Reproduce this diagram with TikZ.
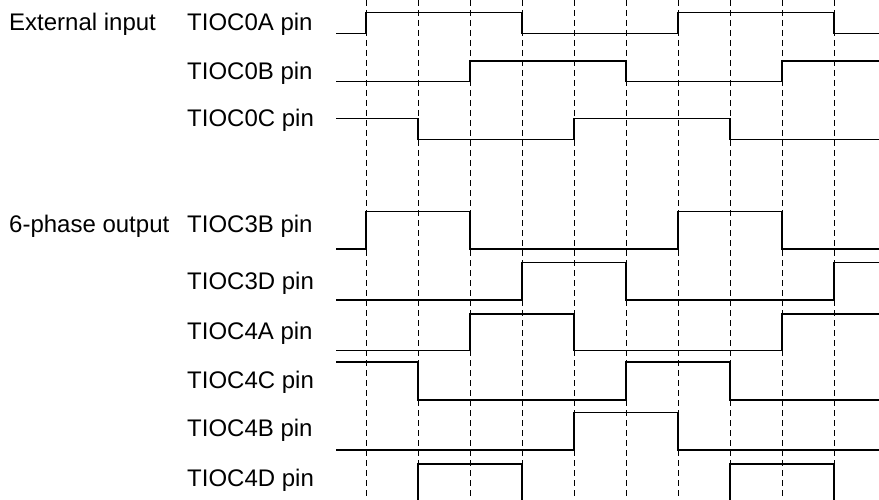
\documentclass[tikz,border=0pt]{standalone}
\usepackage{fontspec}
\setmainfont{Liberation Sans}
\begin{document}
\begin{tikzpicture}[x=1bp,y=-1bp,
  sig/.style={line width=1.1bp,black,line join=miter},
  grid/.style={line width=0.9bp,black,dash pattern=on 6bp off 4bp},
  lbl/.style={anchor=base west,inner sep=0pt,font=\fontsize{24bp}{28bp}\selectfont}]
\clip (0,0) rectangle (879,500);
% dashed timing lines
\foreach \k in {0,...,9}{
  \coordinate (t\k top) at (366+52*\k,0);
  \coordinate (t\k bot) at (366+52*\k,500);
  \draw[grid] (t\k top) -- (t\k bot);
}
% labels
\node[lbl] (ext) at (9,31) {External input};
\node[lbl] (six) at (9,233) {6-phase output};
\node[lbl] (l0a) at (187,31) {TIOC0A pin};
\node[lbl] (l0b) at (187,80) {TIOC0B pin};
\node[lbl] (l0c) at (187,127) {TIOC0C pin};
\node[lbl] (l3b) at (187,233) {TIOC3B pin};
\node[lbl] (l3d) at (187,290) {TIOC3D pin};
\node[lbl] (l4a) at (187,340) {TIOC4A pin};
\node[lbl] (l4c) at (187,388) {TIOC4C pin};
\node[lbl] (l4b) at (187,436) {TIOC4B pin};
\node[lbl] (l4d) at (187,486) {TIOC4D pin};
% TIOC0A
\draw[sig] (336,33.3) -- (366,33.3) -- (366,12.7) -- (522,12.7) -- (522,33.3) -- (678,33.3) -- (678,12.7) -- (834,12.7) -- (834,33.3) -- (879,33.3);
% TIOC0B
\draw[sig] (336,81.7) -- (470,81.7) -- (470,61) -- (626,61) -- (626,81.7) -- (782,81.7) -- (782,61) -- (879,61);
% TIOC0C
\draw[sig] (336,118.3) -- (418,118.3) -- (418,139.3) -- (574,139.3) -- (574,118.3) -- (730,118.3) -- (730,139.3) -- (879,139.3);
% TIOC3B
\draw[sig] (336,249) -- (366,249) -- (366,211.7) -- (470,211.7) -- (470,249) -- (678,249) -- (678,211.7) -- (782,211.7) -- (782,249) -- (879,249);
% TIOC3D
\draw[sig] (336,300) -- (522,300) -- (522,262.3) -- (626,262.3) -- (626,300) -- (834,300) -- (834,262.3) -- (879,262.3);
% TIOC4A
\draw[sig] (336,350.7) -- (470,350.7) -- (470,314) -- (574,314) -- (574,350.7) -- (782,350.7) -- (782,314) -- (879,314);
% TIOC4C
\draw[sig] (336,362) -- (418,362) -- (418,400) -- (626,400) -- (626,362) -- (730,362) -- (730,400) -- (879,400);
% TIOC4B
\draw[sig] (336,450) -- (574,450) -- (574,412.7) -- (678,412.7) -- (678,450) -- (879,450);
% TIOC4D
\draw[sig] (336,503) -- (418,503) -- (418,464) -- (522,464) -- (522,503) -- (730,503) -- (730,464) -- (834,464) -- (834,503) -- (879,503);
\end{tikzpicture}
\end{document}
